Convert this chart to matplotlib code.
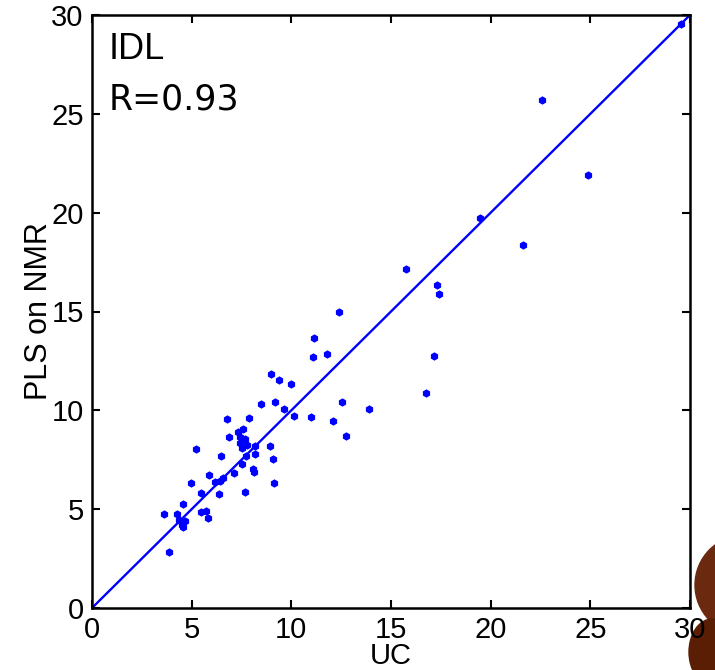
import matplotlib
matplotlib.use("Agg")
import matplotlib.pyplot as plt
from matplotlib.patches import Ellipse

plt.rcParams['font.family'] = ['Liberation Sans', 'DejaVu Sans']

uc = [29.55, 22.59, 24.87, 19.45, 21.63, 15.74, 17.29, 17.41, 12.41, 11.14,
      11.81, 11.09, 17.18, 8.98, 9.40, 9.98, 16.74, 8.48, 9.18, 12.53,
      9.63, 13.91, 10.14, 10.99, 12.08, 12.76, 6.76, 7.86, 5.22, 6.89,
      7.31, 7.58, 7.43, 7.69, 7.43, 7.76, 7.51, 8.18, 8.18, 7.73,
      8.93, 9.07, 6.46, 7.51, 8.09, 8.13, 7.14, 5.87, 6.56, 6.42,
      6.17, 4.95, 9.13, 5.45, 6.36, 7.68, 4.55, 3.63, 4.28, 5.45,
      5.72, 5.84, 4.38, 4.68, 4.50, 4.55, 3.86]
pls = [29.54, 25.70, 21.90, 19.73, 18.36, 17.13, 16.34, 15.88, 14.97, 13.64,
       12.86, 12.68, 12.73, 11.84, 11.53, 11.33, 10.88, 10.32, 10.44, 10.42,
       10.05, 10.05, 9.73, 9.66, 9.47, 8.70, 9.54, 9.60, 8.06, 8.66,
       8.92, 9.04, 8.63, 8.53, 8.36, 8.24, 8.08, 8.19, 7.79, 7.69,
       8.19, 7.55, 7.69, 7.27, 7.02, 6.89, 6.84, 6.73, 6.59, 6.44,
       6.36, 6.32, 6.32, 5.82, 5.77, 5.87, 5.25, 4.74, 4.75, 4.86,
       4.92, 4.54, 4.45, 4.40, 4.20, 4.08, 2.82]
ticks = [0, 5, 10, 15, 20, 25, 30]
line_x = [0, 30]
line_y = [0, 30]

fig = plt.figure(figsize=(7.15, 6.7), dpi=100)

# decorative seal fragments at bottom-right (behind the axes)
fig.patches.append(Ellipse((745/715, 1 - 585/670), 100/715, 100/670,
                           transform=fig.transFigure, color='#6b2a10',
                           zorder=-5))
fig.patches.append(Ellipse((712/715, 1 - 652/670), 46/715, 66/670,
                           transform=fig.transFigure, color='#5a1e05',
                           zorder=-5))

ax = fig.add_axes([92/715, 62/670, 598/715, 593/670])
ax.set_zorder(1)

ax.plot(line_x, line_y, color='#0000ff', lw=1.7, zorder=2)
ax.plot(uc, pls, linestyle='none', marker='h', markersize=6,
        color='#0000ff', markeredgewidth=0, zorder=3)

ax.set_xlim(0, 30)
ax.set_ylim(0, 30)
ax.set_xticks(ticks)
ax.set_yticks(ticks)
ax.tick_params(direction='in', length=6, width=1.5, labelsize=21,
               top=True, right=True, pad=6)
for s in ax.spines.values():
    s.set_linewidth(1.8)

ax.set_xlabel('UC', fontsize=21, labelpad=-2)
ax.set_ylabel('PLS on NMR', fontsize=22, labelpad=-2)

ax.text(0.027, 0.941, 'IDL', transform=ax.transAxes, fontsize=26,
        ha='left', va='center')
ax.text(0.027, 0.857, 'R=0.93', transform=ax.transAxes, fontsize=25,
        ha='left', va='center', family='DejaVu Sans')

fig.savefig('out.png', dpi=100)
